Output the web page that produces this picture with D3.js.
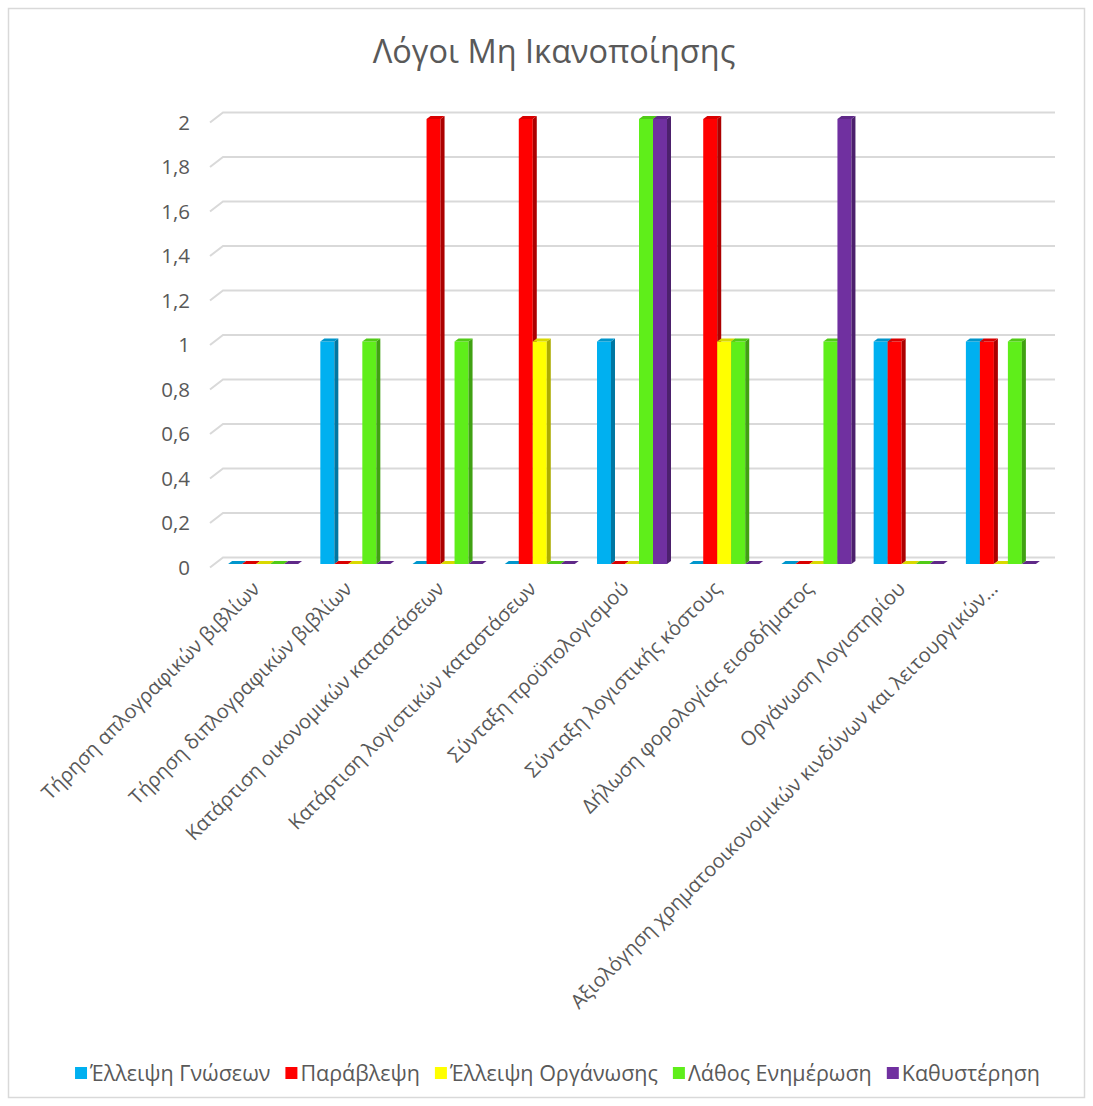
<!DOCTYPE html>
<html>
<head>
<meta charset="utf-8">
<script src="https://cdn.jsdelivr.net/npm/d3@7"></script>
<style>
  html, body { margin: 0; padding: 0; background: #fff; }
  svg { display: block; font-family: "Open Sans", "DejaVu Sans", sans-serif; }
</style>
</head>
<body>
<svg id="chart" width="1093" height="1106"></svg>
<script>
// Categories (x axis) and series
const categories = [
  "Τήρηση απλογραφικών βιβλίων",
  "Τήρηση διπλογραφικών βιβλίων",
  "Κατάρτιση οικονομικών καταστάσεων",
  "Κατάρτιση λογιστικών καταστάσεων",
  "Σύνταξη προϋπολογισμού",
  "Σύνταξη λογιστικής κόστους",
  "Δήλωση φορολογίας εισοδήματος",
  "Οργάνωση Λογιστηρίου",
  "Αξιολόγηση χρηματοοικονομικών κινδύνων και λειτουργικών…"
];
const seriesNames = ["Έλλειψη Γνώσεων", "Παράβλεψη", "Έλλειψη Οργάνωσης", "Λάθος Ενημέρωση", "Καθυστέρηση"];
const seriesColors = ["#00B0F0", "#FF0000", "#FFFF00", "#5FEE1A", "#7030A0"];

// One array per series, in category order
const elleipsiGnoseon   = [0, 1, 0, 0, 1, 0, 0, 1, 1];
const paravlepsi        = [0, 0, 2, 2, 0, 2, 0, 1, 1];
const elleipsiOrganosis = [0, 0, 0, 1, 0, 1, 0, 0, 0];
const lathosEnimerosi   = [0, 1, 1, 0, 2, 1, 1, 0, 1];
const kathysterisi      = [0, 0, 0, 0, 2, 0, 2, 0, 0];
const seriesValues = [elleipsiGnoseon, paravlepsi, elleipsiOrganosis, lathosEnimerosi, kathysterisi];

const yTicks = [0, 0.2, 0.4, 0.6, 0.8, 1, 1.2, 1.4, 1.6, 1.8, 2];
const title = "Λόγοι Μη Ικανοποίησης";

const svg = d3.select("#chart");
const textColor = "#595959";
const gridColor = "#D9D9D9";
const fmt = v => d3.format(".1~f")(v).replace(".", ",");

// chart frame
svg.append("rect")
  .attr("x", 8.5).attr("y", 8.5).attr("width", 1076).attr("height", 1089)
  .attr("fill", "#fff").attr("stroke", gridColor).attr("stroke-width", 1.5);

// title
svg.append("text")
  .attr("x", 554).attr("y", 63)
  .attr("text-anchor", "middle")
  .attr("font-size", 32.5).attr("fill", textColor)
  .text(title);

// scales: front plane of the bars, with a receding wall behind
const y = d3.scaleLinear().domain([0, 2]).range([564, 119]);
const wallDx = 13, wallDy = 10;          // depth of the floor/side wall
const axisFrontX = 210;
const wallFrontOff = 3.5;                // axis front edge sits slightly below bar front
const x0 = d3.scaleBand().domain(categories).range([217, 1047]).paddingInner(0).paddingOuter(0);
const barW = 14;
const x1 = d3.scaleBand().domain(d3.range(seriesNames.length))
  .range([x0.bandwidth() / 2 - 35, x0.bandwidth() / 2 + 35]);
const bx = 4, by = 3;                    // bar depth offsets

// back wall gridlines with the diagonal on the side wall
const grid = svg.append("g");
yTicks.forEach(t => {
  const yf = y(t) + wallFrontOff;
  const yb = yf - wallDy;
  grid.append("path")
    .attr("d", `M${axisFrontX},${yf}L${axisFrontX + wallDx},${yb}L1055,${yb}`)
    .attr("fill", "none").attr("stroke", gridColor).attr("stroke-width", 2);
});

// y tick labels
svg.append("g").selectAll("text").data(yTicks).join("text")
  .attr("x", 190).attr("y", d => y(d) + wallFrontOff)
  .attr("dy", "0.35em")
  .attr("text-anchor", "end")
  .attr("font-size", 20.5).attr("fill", textColor)
  .text(d => fmt(d));

// bars
const darker = (c, k) => d3.color(c).darker(k).formatHex();
const bars = svg.append("g");
categories.forEach((cat, ci) => {
  seriesValues.forEach((vals, si) => {
    const v = vals[ci];
    const xl = x0(cat) + x1(si);
    const xr = xl + barW;
    const yt = y(v), yb = y(0);
    const col = seriesColors[si];
    const g = bars.append("g");
    if (v > 0) {
      g.append("rect").attr("x", xl).attr("y", yt).attr("width", barW).attr("height", yb - yt)
        .attr("fill", col);
      g.append("path")
        .attr("d", `M${xr},${yt}L${xr + bx},${yt - by}L${xr + bx},${yb - by}L${xr},${yb}Z`)
        .attr("fill", darker(col, 1.1));
    }
    g.append("path")
      .attr("d", `M${xl},${yt}L${xl + bx},${yt - by}L${xr + bx},${yt - by}L${xr},${yt}Z`)
      .attr("fill", darker(col, 0.45));
  });
});

// category labels, rotated
svg.append("g").selectAll("text").data(categories).join("text")
  .attr("transform", d => `translate(${x0(d) + x0.bandwidth() / 2 - 2},${590}) rotate(-45)`)
  .attr("text-anchor", "end")
  .attr("font-size", 20).attr("fill", textColor)
  .text(d => d);

// legend: swatch, label, then a gap; the whole row is centred
const legend = svg.append("g");
const items = seriesNames.map((name, i) => {
  const t = legend.append("text").attr("y", 1073).attr("dy", "0.35em")
    .attr("font-size", 21.5).attr("fill", textColor).text(name);
  return { t, w: t.node().getComputedTextLength(), i };
});
const sw = 12, swGap = 3, itemGap = 15;
const total = d3.sum(items, d => sw + swGap + d.w) + itemGap * (items.length - 1);
let cx = 557.5 - total / 2;
items.forEach(d => {
  legend.append("rect").attr("x", cx).attr("y", 1067).attr("width", sw).attr("height", sw)
    .attr("fill", seriesColors[d.i]);
  d.t.attr("x", cx + sw + swGap);
  cx += sw + swGap + d.w + itemGap;
});
</script>
</body>
</html>
